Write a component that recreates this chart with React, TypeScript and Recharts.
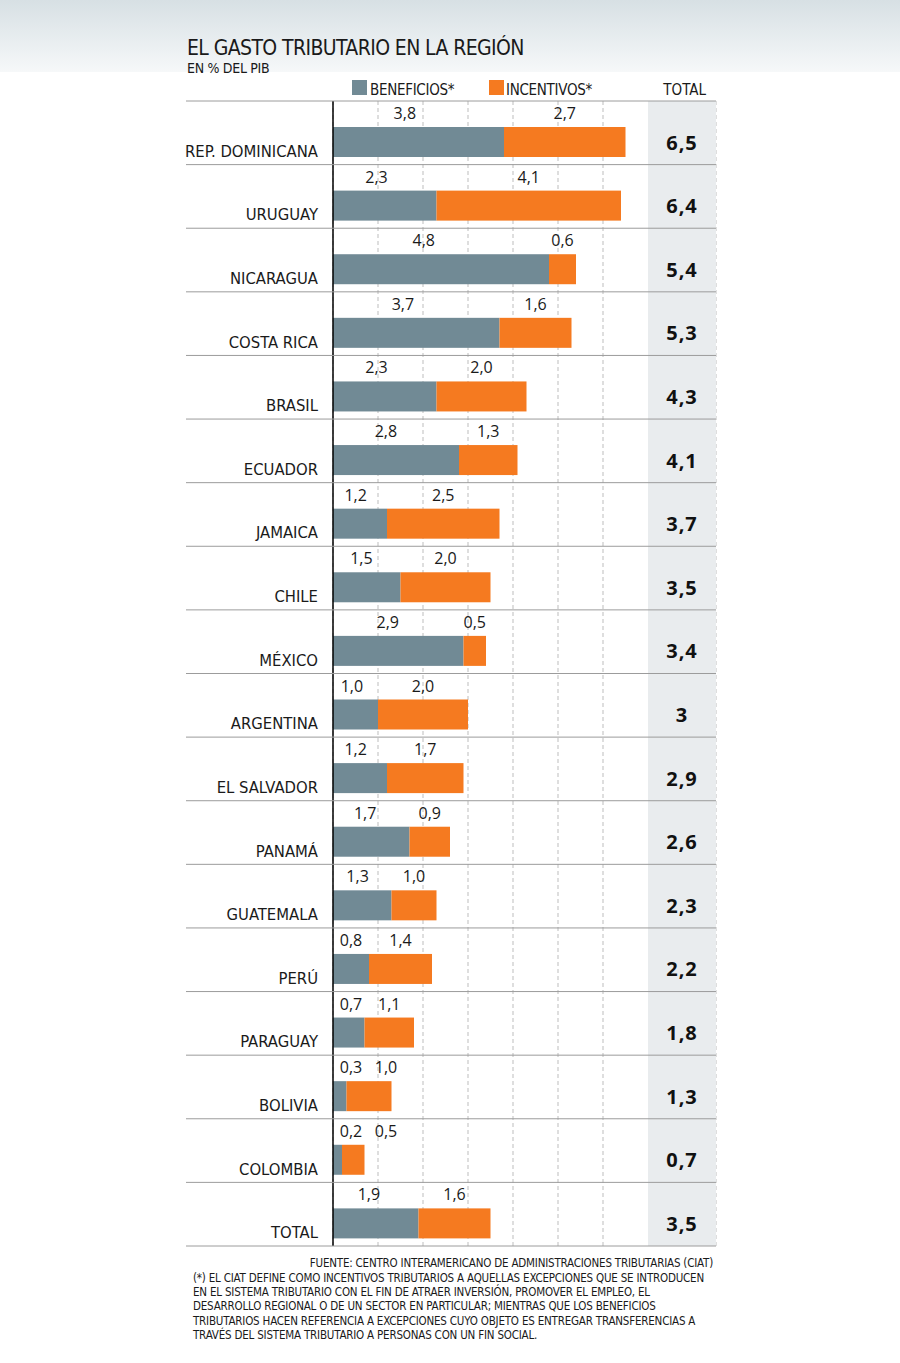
import React from 'react';
import { BarChart, Bar, XAxis, YAxis, CartesianGrid, ReferenceArea, LabelList } from 'recharts';

const paises = [
    'REP. DOMINICANA', 'URUGUAY', 'NICARAGUA', 'COSTA RICA', 'BRASIL', 'ECUADOR',
    'JAMAICA', 'CHILE', 'MÉXICO', 'ARGENTINA', 'EL SALVADOR', 'PANAMÁ',
    'GUATEMALA', 'PERÚ', 'PARAGUAY', 'BOLIVIA', 'COLOMBIA', 'TOTAL',
];
const beneficios = [3.8, 2.3, 4.8, 3.7, 2.3, 2.8, 1.2, 1.5, 2.9, 1.0, 1.2, 1.7, 1.3, 0.8, 0.7, 0.3, 0.2, 1.9];
const incentivos = [2.7, 4.1, 0.6, 1.6, 2.0, 1.3, 2.5, 2.0, 0.5, 2.0, 1.7, 0.9, 1.0, 1.4, 1.1, 1.0, 0.5, 1.6];
const totales = [6.5, 6.4, 5.4, 5.3, 4.3, 4.1, 3.7, 3.5, 3.4, 3, 2.9, 2.6, 2.3, 2.2, 1.8, 1.3, 0.7, 3.5];
const gridTicks = [1, 2, 3, 4, 5, 6];

const data = paises.map((pais, i) => ({
    pais,
    beneficios: beneficios[i],
    incentivos: incentivos[i],
    total: totales[i],
}));

const GRAY = '#718a95';
const ORANGE = '#f57a20';
const COLUMN_BG = '#e9ecee';
const LABEL_FONT = "'DejaVu Sans Condensed', 'DejaVu Sans', sans-serif";
const NUM_FONT = "'Open Sans', sans-serif";

const W = 900;
const H = 1363;
const LEFT = 186;
const RIGHT = 716;
const TOP = 101;
const BOTTOM = 1246;
const AXIS_W = 147;
const PLOT_LEFT = LEFT + AXIS_W;
const UNIT = 45; // px por punto del PIB
const X_MAX = (RIGHT - PLOT_LEFT) / UNIT;
const TOTAL_FROM = 7;
const ROW_H = (BOTTOM - TOP) / paises.length;
const BAR_SHIFT = 9;

const fmt = (v: number) => String(v).replace('.', ',');
const fmt1 = (v: number) => v.toFixed(1).replace('.', ',');

const ShiftedRect = (p: any) => (
    <rect x={p.x} y={p.y + BAR_SHIFT} width={Math.max(p.width, 0)} height={p.height} fill={p.fill} />
);

const benLabelX = (x: number, width: number) => x + Math.max(18, width * 0.42);

const BenLabel = (p: any) => (
    <text x={benLabelX(p.x, p.width)} y={p.y + BAR_SHIFT - 8} textAnchor="middle"
        fontFamily={NUM_FONT} fontSize={16} fill="#1a1a1a">
        {fmt1(p.value)}
    </text>
);

const IncLabel = (p: any) => {
    const benX = benLabelX(PLOT_LEFT, p.x - PLOT_LEFT);
    const cx = Math.max(p.x + p.width / 2, benX + 35);
    return (
        <text x={cx} y={p.y + BAR_SHIFT - 8} textAnchor="middle"
            fontFamily={NUM_FONT} fontSize={16} fill="#1a1a1a">
            {fmt1(p.value)}
        </text>
    );
};

const TotalLabel = (p: any) => (
    <text x={PLOT_LEFT + ((TOTAL_FROM + X_MAX) / 2) * UNIT} y={p.y + BAR_SHIFT + p.height / 2 + 7.5}
        textAnchor="middle" fontFamily={NUM_FONT} fontWeight={700} fontSize={20} letterSpacing={1}
        fill="#111">
        {fmt(p.value)}
    </text>
);

const CountryTick = (p: any) => {
    const top = p.y - ROW_H / 2;
    const last = p.index === paises.length - 1;
    return (
        <g>
            <line x1={LEFT} x2={RIGHT} y1={top} y2={top} stroke="#9c9c9c" />
            {last && <line x1={LEFT} x2={RIGHT} y1={top + ROW_H} y2={top + ROW_H} stroke="#9c9c9c" />}
            <text x={p.x} y={p.y + 24} textAnchor="end" fontFamily={LABEL_FONT} fontSize={16.5} fill="#1a1a1a">
                {p.payload.value}
            </text>
        </g>
    );
};

const footLines = [
    '(*) EL CIAT DEFINE COMO INCENTIVOS TRIBUTARIOS A AQUELLAS EXCEPCIONES QUE SE INTRODUCEN',
    'EN EL SISTEMA TRIBUTARIO CON EL FIN DE ATRAER INVERSIÓN, PROMOVER EL EMPLEO, EL',
    'DESARROLLO REGIONAL O DE UN SECTOR EN PARTICULAR; MIENTRAS QUE LOS BENEFICIOS',
    'TRIBUTARIOS HACEN REFERENCIA A EXCEPCIONES CUYO OBJETO ES ENTREGAR TRANSFERENCIAS A',
    'TRAVÉS DEL SISTEMA TRIBUTARIO A PERSONAS CON UN FIN SOCIAL.',
];

export default function App() {
    return (
        <div style={{ position: 'absolute', left: 0, top: 0, width: W, height: H, background: '#fff' }}>
            <svg width={W} height={H} style={{ position: 'absolute', left: 0, top: 0 }}>
                <defs>
                    <linearGradient id="topBg" x1="0" y1="0" x2="0" y2="1">
                        <stop offset="0" stopColor="#d7e0e4" />
                        <stop offset="1" stopColor="#f6f8f9" />
                    </linearGradient>
                </defs>
                <rect x={0} y={0} width={W} height={72} fill="url(#topBg)" />
                <text x={187} y={55} fontFamily={LABEL_FONT} fontSize={21} letterSpacing={-0.6} fill="#1a1a1a">
                    EL GASTO TRIBUTARIO EN LA REGIÓN
                </text>
                <text x={187} y={73} fontFamily={LABEL_FONT} fontSize={14} letterSpacing={-0.3} fill="#1a1a1a">
                    EN % DEL PIB
                </text>
                <rect x={352} y={80} width={15} height={15} fill={GRAY} />
                <text x={370} y={95} fontFamily={LABEL_FONT} fontSize={15} letterSpacing={-0.3} fill="#1a1a1a">
                    BENEFICIOS*
                </text>
                <rect x={489} y={80} width={15} height={15} fill={ORANGE} />
                <text x={506} y={95} fontFamily={LABEL_FONT} fontSize={15} letterSpacing={-0.3} fill="#1a1a1a">
                    INCENTIVOS*
                </text>
                <text x={706} y={95} textAnchor="end" fontFamily={LABEL_FONT} fontSize={15} fill="#1a1a1a">
                    TOTAL
                </text>
                <text x={713} y={1267} textAnchor="end" fontFamily={LABEL_FONT} fontSize={11.5} letterSpacing={-0.2} fill="#1a1a1a">
                    FUENTE: CENTRO INTERAMERICANO DE ADMINISTRACIONES TRIBUTARIAS (CIAT)
                </text>
                {footLines.map((line, i) => (
                    <text key={i} x={193} y={1282 + i * 14.2} fontFamily={LABEL_FONT} fontSize={11.5}
                        letterSpacing={-0.2} fill="#1a1a1a">
                        {line}
                    </text>
                ))}
            </svg>
            <div style={{ position: 'absolute', left: 0, top: 0 }}>
                <BarChart
                    width={W}
                    height={H}
                    layout="vertical"
                    data={data}
                    margin={{ top: TOP, right: W - RIGHT, bottom: H - BOTTOM, left: LEFT }}
                    barSize={30}
                >
                    <CartesianGrid horizontal={false} stroke="#bdbdbd" strokeDasharray="4 3" />
                    <ReferenceArea x1={TOTAL_FROM} x2={X_MAX} fill={COLUMN_BG} fillOpacity={1} stroke="none" ifOverflow="visible" />
                    <XAxis type="number" domain={[0, X_MAX]} ticks={gridTicks} hide allowDataOverflow />
                    <YAxis
                        type="category"
                        dataKey="pais"
                        width={AXIS_W}
                        tickLine={false}
                        tickSize={0}
                        tickMargin={15}
                        axisLine={{ stroke: '#000', strokeWidth: 1.5 }}
                        tick={<CountryTick />}
                        interval={0}
                    />
                    <Bar dataKey="beneficios" stackId="a" fill={GRAY} shape={<ShiftedRect />} isAnimationActive={false}>
                        <LabelList dataKey="beneficios" content={<BenLabel />} />
                    </Bar>
                    <Bar dataKey="incentivos" stackId="a" fill={ORANGE} shape={<ShiftedRect />} isAnimationActive={false}>
                        <LabelList dataKey="incentivos" content={<IncLabel />} />
                        <LabelList dataKey="total" content={<TotalLabel />} />
                    </Bar>
                </BarChart>
            </div>
        </div>
    );
}
